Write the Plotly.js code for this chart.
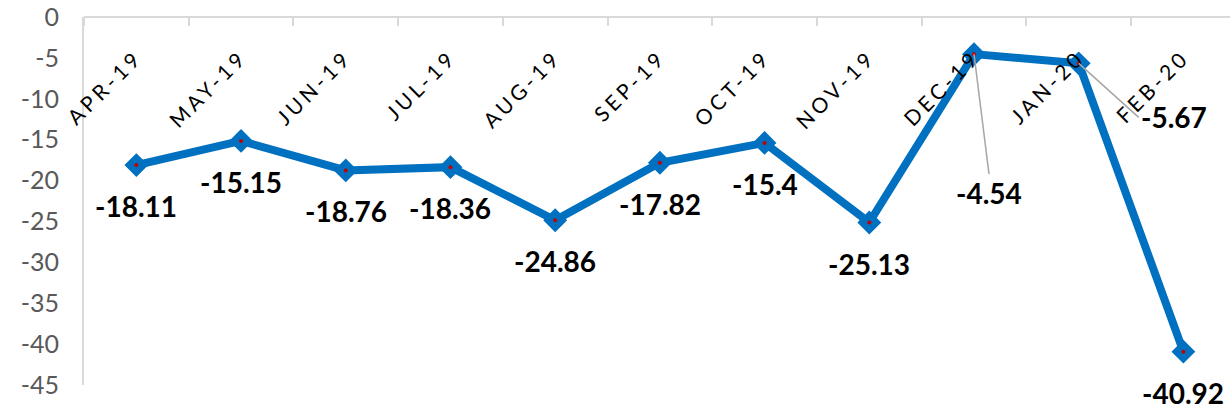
<!DOCTYPE html>
<html>
<head>
<meta charset="utf-8">
<script src="https://cdn.plot.ly/plotly-3.0.1.min.js"></script>
<style>
html,body{margin:0;padding:0;background:#fff;}
#chart{width:1230px;height:410px;}
.xtick text{letter-spacing:3.8px;}
</style>
</head>
<body>
<div id="chart"></div>
<script>
const categories = ["APR-19","MAY-19","JUN-19","JUL-19","AUG-19","SEP-19","OCT-19","NOV-19","DEC-19","JAN-20","FEB-20"];
const values = [-18.11,-15.15,-18.76,-18.36,-24.86,-17.82,-15.4,-25.13,-4.54,-5.67,-40.92];
const labels = ["-18.11","-15.15","-18.76","-18.36","-24.86","-17.82","-15.4","-25.13","-4.54","-5.67","-40.92"];
const yTicks = [0,-5,-10,-15,-20,-25,-30,-35,-40,-45];

const FONT = "Lato, 'Open Sans', sans-serif";
const BLUE = "#0070C0";

const traces = [
  {
    x: categories, y: values, type: "scatter", mode: "lines+markers",
    line: {color: BLUE, width: 8},
    marker: {symbol: "diamond", size: 14, color: BLUE, line: {color: BLUE, width: 4}},
    cliponaxis: false, hoverinfo: "skip"
  },
  {
    x: categories, y: values, type: "scatter", mode: "markers",
    marker: {symbol: "circle", size: 4, color: "#C00000"},
    cliponaxis: false, hoverinfo: "skip"
  }
];

// leader-line label placement (pixels): [ax, ay, xanchor, yanchor]
const leader = {"DEC-19": [15, 120, "center", "top"], "JAN-20": [60, 54, "left", "middle"]};

const annotations = categories.map((c, i) => {
  const base = {
    x: c, y: values[i], xref: "x", yref: "y", text: labels[i],
    font: {family: FONT, size: 28, color: "#000", weight: 700}
  };
  if (leader[c]) {
    const L = leader[c];
    return Object.assign(base, {
      showarrow: true, ax: L[0], ay: L[1], xanchor: L[2], yanchor: L[3],
      arrowhead: 0, arrowwidth: 1.5, arrowcolor: "#a6a6a6", standoff: 0
    });
  }
  return Object.assign(base, {showarrow: false, yshift: -41});
});

const layout = {
  width: 1230, height: 410,
  margin: {l: 84, r: 0, t: 17, b: 25},
  paper_bgcolor: "#fff", plot_bgcolor: "#fff",
  showlegend: false,
  font: {family: FONT},
  xaxis: {
    type: "category",
    range: [-0.5, 10.445],
    anchor: "free", position: 1, side: "bottom",
    showline: true, linecolor: "#d9d9d9", linewidth: 2,
    ticks: "outside", ticklen: 8, tickcolor: "#d9d9d9", tickwidth: 2,
    tickson: "boundaries",
    showgrid: false, zeroline: false,
    tickangle: -45,
    ticklabelstandoff: 19,
    tickfont: {family: FONT, size: 21, color: "#000"}
  },
  yaxis: {
    range: [-45, 0],
    tickvals: yTicks, ticktext: yTicks.map(String),
    showline: true, linecolor: "#d9d9d9", linewidth: 2,
    showgrid: false, zeroline: false, ticks: "",
    ticklabelstandoff: 18,
    tickfont: {family: FONT, size: 25, color: "#595959"}
  },
  annotations: annotations
};

Plotly.newPlot("chart", traces, layout, {staticPlot: true, displayModeBar: false});
</script>
</body>
</html>
